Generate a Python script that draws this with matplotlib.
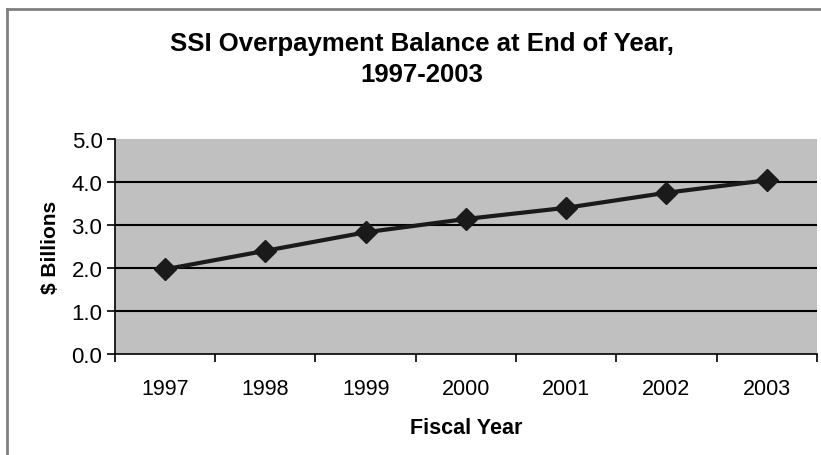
import matplotlib
matplotlib.use('Agg')
import matplotlib.pyplot as plt
from matplotlib.lines import Line2D

years = ['1997', '1998', '1999', '2000', '2001', '2002', '2003']
balance = [1.97, 2.40, 2.83, 3.14, 3.40, 3.75, 4.04]
yticks = [0.0, 1.0, 2.0, 3.0, 4.0, 5.0]

plt.rcParams['font.family'] = ['Liberation Sans', 'DejaVu Sans']

fig = plt.figure(figsize=(8.21, 4.56), dpi=100)
ax = fig.add_axes([0.140, 0.2215, 0.855, 0.4715])
ax.set_facecolor('#c0c0c0')

# outer chart frame (top and left edges visible)
fig.add_artist(Line2D([0.0085, 0.0085], [0, 0.978], transform=fig.transFigure, color='#808080', lw=2))
fig.add_artist(Line2D([0.0085, 1.0], [0.978, 0.978], transform=fig.transFigure, color='#808080', lw=2))

x = list(range(len(years)))
for v in yticks[1:-1]:
    ax.axhline(v, color='black', lw=1.5, zorder=1)
ax.plot(x, balance, color='#1a1a1a', lw=3, marker='D', markersize=11,
        markerfacecolor='#1a1a1a', markeredgecolor='#1a1a1a', zorder=3)

ax.set_xlim(-0.5, len(years) - 0.5)
ax.set_ylim(0, 5)
ax.set_yticks(yticks)
ax.set_yticklabels(['%.1f' % v for v in yticks])
ax.set_xticks([i + 0.5 for i in range(-1, len(years))])
ax.set_xticklabels([])
ax.set_xticks(x, minor=True)
ax.set_xticklabels(years, minor=True)
ax.tick_params(axis='x', which='minor', length=0, pad=17, labelsize=15.5)
ax.tick_params(axis='x', which='major', length=6, width=1.2, direction='out')
ax.tick_params(axis='y', length=6, width=1.2, labelsize=16, pad=3)

for s in ['top', 'right']:
    ax.spines[s].set_visible(False)
ax.spines['left'].set_linewidth(1.2)
ax.spines['bottom'].set_linewidth(1.2)

ax.set_xlabel('Fiscal Year', fontsize=15.5, fontweight='bold', labelpad=13)
ax.set_ylabel('$ Billions', fontsize=15, fontweight='bold', labelpad=8)
fig.text(0.514, 0.870, 'SSI Overpayment Balance at End of Year,\n1997-2003',
         ha='center', va='center', fontsize=18.5, fontweight='bold',
         linespacing=1.35)

fig.savefig('out.png', dpi=100)
